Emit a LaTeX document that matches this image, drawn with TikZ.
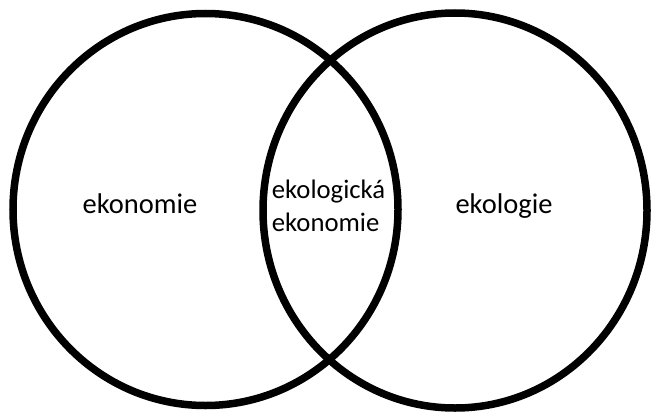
\documentclass[tikz,border=0pt]{standalone}
\usepackage{fontspec}
\setmainfont{Carlito}
\begin{document}
\begin{tikzpicture}[x=1pt,y=-1pt,
  ring/.style={draw=black,line width=7.5pt},
  lbl/.style={inner sep=0pt,anchor=base,font=\fontsize{28.5}{33}\selectfont},
  mid/.style={inner sep=0pt,anchor=base west,font=\fontsize{26.7}{33}\selectfont}]
\useasboundingbox (0,0) rectangle (652,412);
\draw[ring] (205.5,209.5) ellipse [x radius=192.5, y radius=196];
\draw[ring] (455,210.5) ellipse [x radius=192, y radius=197.5];
\node[lbl] (econ) at (140,213) {ekonomie};
\node[lbl] (ecol) at (504,213) {ekologie};
\node[mid] (mid1) at (271.7,198.3) {ekologická};
\node[mid] (mid2) at (271.7,231.7) {ekonomie};
\end{tikzpicture}
\end{document}
